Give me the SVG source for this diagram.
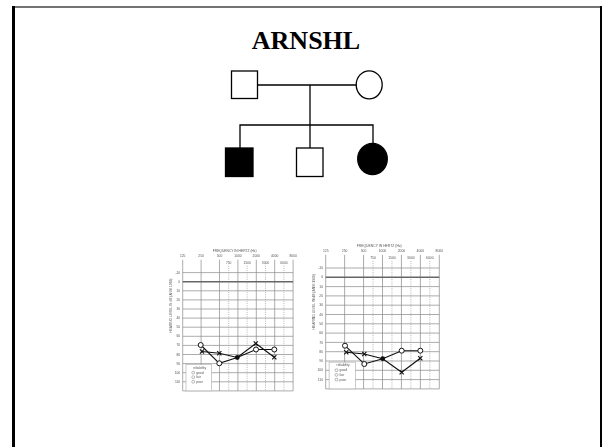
<svg xmlns="http://www.w3.org/2000/svg" xmlns:xlink="http://www.w3.org/1999/xlink" width="602" height="447" viewBox="0 0 602 447">
  <style>
    .ped { fill: #fff; stroke: #000; stroke-width: 1.3; }
    .aff { fill: #000; stroke: #000; stroke-width: 1.3; }
    .link { fill: none; stroke: #000; stroke-width: 1.3; }
    .title { font-family: "Liberation Serif", "Times New Roman", serif; font-weight: bold; font-size: 26px; fill: #000; }
    .gl { stroke: #8a8a8a; stroke-width: 0.7; fill: none; }
    .gz { stroke: #666; stroke-width: 1.4; fill: none; }
    .gd { stroke: #999; stroke-width: 0.7; stroke-dasharray: 1 1.2; fill: none; }
    .at { font-family: "Liberation Sans", Arial, sans-serif; font-size: 3.3px; fill: #555; }
    .am { text-anchor: middle; }
    .ae { text-anchor: end; }
    .trace { fill: none; stroke: #111; stroke-width: 1.1; }
    .om { fill: #fff; stroke: #111; stroke-width: 1; }
    .xm { fill: none; stroke: #111; stroke-width: 1.1; }
  </style>
  <defs>
    <filter id="soft" x="-5%" y="-5%" width="110%" height="110%">
      <feGaussianBlur stdDeviation="0.4"/>
    </filter>
    <!-- audiogram grid in local units: 18.4 px per octave from 125 Hz, 0.91 px per dB from 0 dB -->
    <g id="audiogram-grid">
      <text class="at am" x="52" y="-29.8" font-size="3.5">FREQUENCY IN HERTZ (Hz)</text>
      <g class="at am">
        <text x="0" y="-24.5">125</text>
        <text x="18.4" y="-24.5">250</text>
        <text x="36.8" y="-24.5">500</text>
        <text x="55.2" y="-24.5">1000</text>
        <text x="73.6" y="-24.5">2000</text>
        <text x="92" y="-24.5">4000</text>
        <text x="110.4" y="-24.5">8000</text>
        <text x="46" y="-17.5">750</text>
        <text x="64.4" y="-17.5">1500</text>
        <text x="82.8" y="-17.5">3000</text>
        <text x="101.2" y="-17.5">6000</text>
      </g>
      <g class="gl">
        <path d="M0,-22V109.2M18.4,-22V109.2M36.8,-22V109.2M55.2,-22V109.2M73.6,-22V109.2M92,-22V109.2M110.4,-22V109.2"/>
        <path d="M0,-9.1H110.4M0,9.1H110.4M0,18.2H110.4M0,27.3H110.4M0,36.4H110.4M0,45.5H110.4M0,54.6H110.4M0,63.7H110.4M0,72.8H110.4M0,81.9H110.4M0,91H110.4M0,100.1H110.4M0,109.2H110.4"/>
      </g>
      <path class="gd" d="M46,-16V109.2M64.4,-16V109.2M82.8,-16V109.2M101.2,-16V109.2"/>
      <path class="gz" d="M0,0H110.4"/>
      <g class="at ae">
        <text x="-2.5" y="-8">-10</text>
        <text x="-2.5" y="1.1">0</text>
        <text x="-2.5" y="10.2">10</text>
        <text x="-2.5" y="19.3">20</text>
        <text x="-2.5" y="28.4">30</text>
        <text x="-2.5" y="37.5">40</text>
        <text x="-2.5" y="46.6">50</text>
        <text x="-2.5" y="55.7">60</text>
        <text x="-2.5" y="64.8">70</text>
        <text x="-2.5" y="73.9">80</text>
        <text x="-2.5" y="83">90</text>
        <text x="-2.5" y="92.1">100</text>
        <text x="-2.5" y="101.2">110</text>
      </g>
      <text class="at am" font-size="2.6" transform="translate(-10.5,24) rotate(-90)">HEARING LEVEL IN dB (ANSI 1969)</text>
      <!-- reliability legend -->
      <rect x="3.3" y="83" width="25.7" height="26.2" fill="#fff" stroke="#999" stroke-width="0.5"/>
      <text class="at" x="10.5" y="87" font-size="2.7">reliability</text>
      <g fill="#fff" stroke="#777" stroke-width="0.5">
        <rect x="9.2" y="89.6" width="2.6" height="2.6" rx="0.8"/>
        <rect x="9.2" y="94.2" width="2.6" height="2.6" rx="0.8"/>
        <rect x="9.2" y="98.8" width="2.6" height="2.6" rx="0.8"/>
      </g>
      <g class="at" font-size="2.6">
        <text x="13.5" y="91.9">good</text>
        <text x="13.5" y="96.5">fair</text>
        <text x="13.5" y="101.1">poor</text>
      </g>
    </g>
    <circle id="o-mark" class="om" r="2.5"/>
    <path id="x-mark" class="xm" d="M-2.1,-2.1L2.1,2.1M-2.1,2.1L2.1,-2.1"/>
    <circle id="dot-mark" r="2.4" fill="#111"/>
  </defs>

  <rect width="602" height="447" fill="#fff"/>

  <!-- slide frame -->
  <g id="frame">
    <line x1="12" y1="7" x2="602" y2="7" stroke="#444" stroke-width="1.6"/>
    <line x1="13.5" y1="6" x2="13.5" y2="447" stroke="#000" stroke-width="3"/>
    <line x1="601" y1="6" x2="601" y2="447" stroke="#000" stroke-width="2"/>
  </g>

  <text class="title" x="306" y="48.5" text-anchor="middle">ARNSHL</text>

  <!-- pedigree connectors -->
  <g id="connectors">
    <path class="link" d="M257.5,85H356.5"/>
    <path class="link" d="M310,85V148"/>
    <path class="link" d="M240,148V125H373V143.5"/>
  </g>

  <!-- pedigree individuals -->
  <g id="father"><rect class="ped" x="231.5" y="71" width="26" height="27.5"/></g>
  <g id="mother"><ellipse class="ped" cx="369.2" cy="84.8" rx="13" ry="14"/></g>
  <g id="affected-son"><rect class="aff" x="225.5" y="148" width="27.5" height="28.5"/></g>
  <g id="unaffected-son"><rect class="ped" x="296.5" y="148" width="26.5" height="28.5"/></g>
  <g id="affected-daughter"><ellipse class="aff" cx="372.5" cy="159" rx="14.8" ry="15.6"/></g>

  <!-- audiogram, left -->
  <g id="audiogram-1" filter="url(#soft)">
    <use xlink:href="#audiogram-grid" transform="translate(182.7,281.7)"/>
    <polyline class="trace" points="200.7,345 219.3,363.3 237.3,357.5 256,349.5 274.3,349.5"/>
    <polyline class="trace" points="202,351.5 219.3,353.3 237.3,357.5 255.8,343.5 274.3,357.3"/>
    <use xlink:href="#o-mark" x="200.7" y="345"/>
    <use xlink:href="#o-mark" x="219.3" y="363.3"/>
    <use xlink:href="#o-mark" x="256" y="349.5"/>
    <use xlink:href="#o-mark" x="274.3" y="349.5"/>
    <use xlink:href="#x-mark" x="202" y="351.5"/>
    <use xlink:href="#x-mark" x="219.3" y="353.3"/>
    <use xlink:href="#x-mark" x="255.8" y="343.5"/>
    <use xlink:href="#x-mark" x="274.3" y="357.3"/>
    <use xlink:href="#dot-mark" x="237.3" y="357.5"/>
  </g>

  <!-- audiogram, right -->
  <g id="audiogram-2" filter="url(#soft)">
    <use xlink:href="#audiogram-grid" transform="translate(325.7,277.3) scale(1.029,1.022)"/>
    <polyline class="trace" points="345,345.7 364.3,364 382.7,358.7 401.7,350.7 420.3,350.7"/>
    <polyline class="trace" points="346.3,352.3 364.3,354 382.7,358.7 401.7,372.3 420.3,358.3"/>
    <use xlink:href="#o-mark" x="345" y="345.7"/>
    <use xlink:href="#o-mark" x="364.3" y="364"/>
    <use xlink:href="#o-mark" x="401.7" y="350.7"/>
    <use xlink:href="#o-mark" x="420.3" y="350.7"/>
    <use xlink:href="#x-mark" x="346.3" y="352.3"/>
    <use xlink:href="#x-mark" x="364.3" y="354"/>
    <use xlink:href="#x-mark" x="401.7" y="372.3"/>
    <use xlink:href="#x-mark" x="420.3" y="358.3"/>
    <use xlink:href="#dot-mark" x="382.7" y="358.7"/>
  </g>
</svg>
